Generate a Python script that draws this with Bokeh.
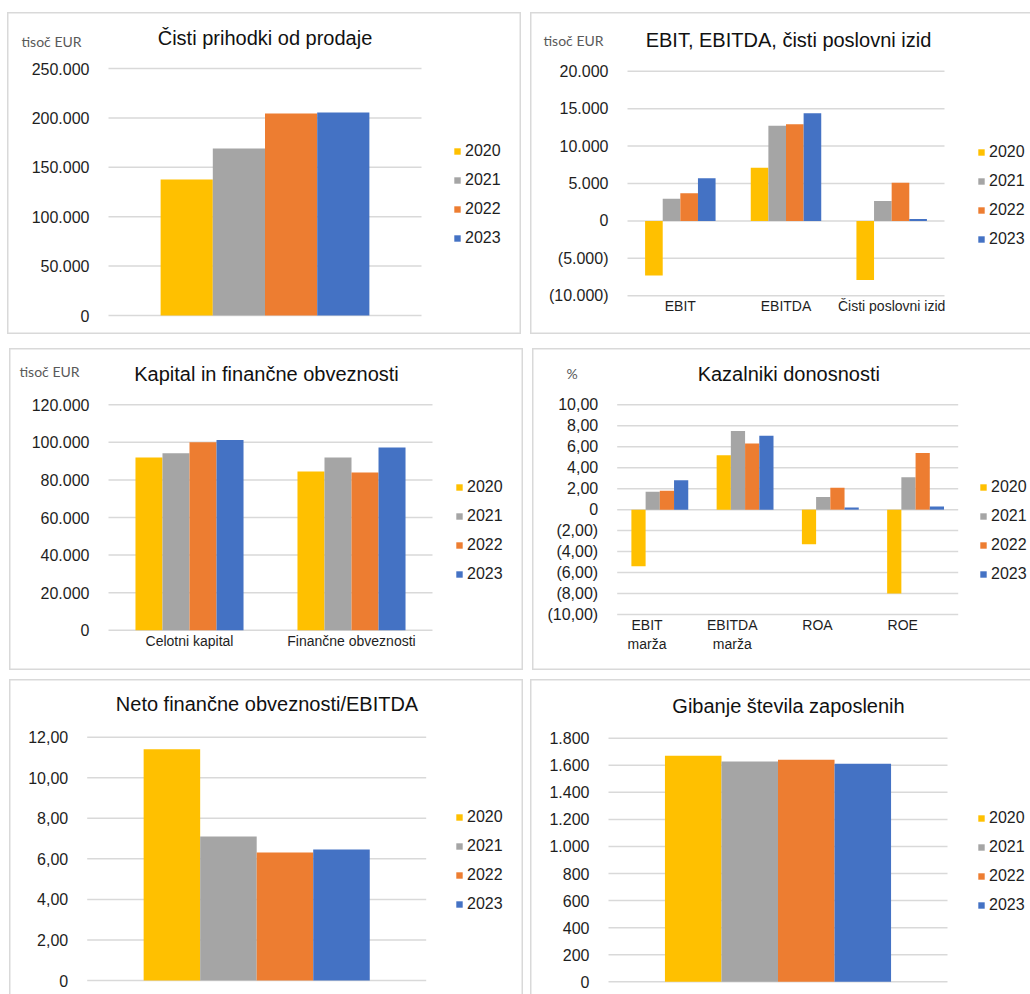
from bokeh.plotting import figure
from bokeh.models import (Range1d, FixedTicker, Legend, LegendItem, Label,
                          Spacer, ColumnDataSource)
from bokeh.layouts import column, row
from bokeh.transform import dodge
from bokeh.embed import file_html
from bokeh.resources import INLINE

years = ["2020", "2021", "2022", "2023"]
year_colors = ["#FFC000", "#A5A5A5", "#ED7D31", "#4472C4"]

# 1 - Čisti prihodki od prodaje (tisoč EUR)
sales_cats = ["Čisti prihodki od prodaje"]
sales_2020 = [137700]
sales_2021 = [169000]
sales_2022 = [204500]
sales_2023 = [205500]
sales_ticks = [0, 50000, 100000, 150000, 200000, 250000]
sales_tick_labels = ["0", "50.000", "100.000", "150.000", "200.000", "250.000"]

# 2 - EBIT, EBITDA, čisti poslovni izid (tisoč EUR)
ebit_cats = ["EBIT", "EBITDA", "Čisti poslovni izid"]
ebit_2020 = [-7300, 7100, -7900]
ebit_2021 = [2950, 12700, 2650]
ebit_2022 = [3700, 12900, 5100]
ebit_2023 = [5700, 14400, 270]
ebit_ticks = [-10000, -5000, 0, 5000, 10000, 15000, 20000]
ebit_tick_labels = ["(10.000)", "(5.000)", "0", "5.000", "10.000", "15.000", "20.000"]

# 3 - Kapital in finančne obveznosti (tisoč EUR)
cap_cats = ["Celotni kapital", "Finančne obveznosti"]
cap_2020 = [92000, 84500]
cap_2021 = [94200, 92000]
cap_2022 = [100100, 84000]
cap_2023 = [101200, 97300]
cap_ticks = [0, 20000, 40000, 60000, 80000, 100000, 120000]
cap_tick_labels = ["0", "20.000", "40.000", "60.000", "80.000", "100.000", "120.000"]

# 4 - Kazalniki donosnosti (%)
kaz_cats = ["EBIT\nmarža", "EBITDA\nmarža", "ROA", "ROE"]
kaz_2020 = [-5.4, 5.2, -3.3, -8.0]
kaz_2021 = [1.7, 7.5, 1.2, 3.1]
kaz_2022 = [1.8, 6.3, 2.1, 5.4]
kaz_2023 = [2.8, 7.05, 0.2, 0.3]
kaz_ticks = [-10, -8, -6, -4, -2, 0, 2, 4, 6, 8, 10]
kaz_tick_labels = ["(10,00)", "(8,00)", "(6,00)", "(4,00)", "(2,00)", "0",
                   "2,00", "4,00", "6,00", "8,00", "10,00"]

# 5 - Neto finančne obveznosti/EBITDA
neto_cats = ["Neto finančne obveznosti/EBITDA"]
neto_2020 = [11.4]
neto_2021 = [7.1]
neto_2022 = [6.31]
neto_2023 = [6.46]
neto_ticks = [0, 2, 4, 6, 8, 10, 12]
neto_tick_labels = ["0", "2,00", "4,00", "6,00", "8,00", "10,00", "12,00"]

# 6 - Gibanje števila zaposlenih
zap_cats = ["Gibanje števila zaposlenih"]
zap_2020 = [1670]
zap_2021 = [1627]
zap_2022 = [1640]
zap_2023 = [1611]
zap_ticks = [0, 200, 400, 600, 800, 1000, 1200, 1400, 1600, 1800]
zap_tick_labels = ["0", "200", "400", "600", "800", "1.000", "1.200", "1.400", "1.600", "1.800"]

FONT = "Liberation Sans"
GRID = "#D9D9D9"
TXT = "#1E1E1E"
BORDER = "#D9D9D9"


def panel(title, cats, series, ticks, tick_labels, W, H, cat_px, tick_px,
          title_pos, legend_pos, unit=None, unit_pos=None, show_x=True,
          sides="tlrb", x_standoff=2, label_shift=0.0):
    """cat_px: pixel x of category area (left, right); tick_px: pixel y of
    top and bottom tick (from figure top)."""
    L, R = cat_px
    Pt, Pb = tick_px
    ncat = len(cats)
    kx = ncat / (R - L)
    bottom_tick, top_tick = ticks[0], ticks[-1]
    ky = (top_tick - bottom_tick) / (Pb - Pt)
    p = figure(width=W, height=H,
               x_range=Range1d(-L * kx, ncat + (W - R) * kx),
               y_range=Range1d(bottom_tick - (H - Pb) * ky, top_tick + Pt * ky),
               output_backend="svg", toolbar_location=None, tools="",
               min_border=0, title_location=None)
    shadows = []
    if "t" in sides:
        shadows.append("inset 0 1.5px 0 " + BORDER)
    if "b" in sides:
        shadows.append("inset 0 -1.5px 0 " + BORDER)
    if "l" in sides:
        shadows.append("inset 1.5px 0 0 " + BORDER)
    if "r" in sides:
        shadows.append("inset -1.5px 0 0 " + BORDER)
    p.styles = {"box-shadow": ", ".join(shadows)}
    p.border_fill_color = None
    p.background_fill_color = None
    p.outline_line_color = None
    p.xgrid.visible = False
    p.ygrid.visible = False

    # horizontal gridlines over the category area, at the tick values
    p.segment(x0=0, x1=ncat, y0=ticks, y1=ticks, line_color=GRID,
              line_width=1.5)

    centers = [i + 0.5 for i in range(ncat)]
    group = 0.667
    bw = group / len(series)
    items = []
    for i, (yr, vals, col) in enumerate(zip(years, series, year_colors)):
        src = ColumnDataSource(dict(xc=centers, val=vals))
        off = (i - (len(series) - 1) / 2) * bw
        r = p.vbar(x=dodge("xc", off), top="val", bottom=0, width=bw,
                   source=src, fill_color=col, line_color=None)
        items.append(LegendItem(label=yr, renderers=[r]))

    # y axis placed at the start of the category area
    p.yaxis.fixed_location = 0
    p.yaxis.ticker = FixedTicker(ticks=ticks, minor_ticks=[])
    p.yaxis.major_label_overrides = dict(zip(ticks, tick_labels))
    p.yaxis.axis_line_color = None
    p.yaxis.major_tick_line_color = None
    p.yaxis.minor_tick_line_color = None
    p.yaxis.major_tick_out = 0
    p.yaxis.major_tick_in = 0
    p.yaxis.major_label_standoff = 19
    p.yaxis.major_label_text_font = FONT
    p.yaxis.major_label_text_font_size = "16px"
    p.yaxis.major_label_text_color = TXT

    # category axis on the lowest gridline
    label_x = [c + label_shift for c in centers]
    p.xaxis.fixed_location = bottom_tick
    p.xaxis.ticker = FixedTicker(ticks=label_x, minor_ticks=[])
    p.xaxis.major_label_overrides = dict(zip(label_x, cats))
    p.xaxis.axis_line_color = None
    p.xaxis.major_tick_line_color = None
    p.xaxis.minor_tick_line_color = None
    p.xaxis.major_tick_out = 0
    p.xaxis.major_tick_in = 0
    p.xaxis.major_label_standoff = x_standoff
    p.xaxis.major_label_text_font = FONT
    p.xaxis.major_label_text_font_size = "14px"
    p.xaxis.major_label_text_color = TXT
    p.xaxis.visible = show_x

    p.add_layout(Label(x=title_pos[0], y=H - title_pos[1], x_units="screen",
                       y_units="screen", text=title, text_font=FONT,
                       text_font_size="20px", text_color="#111111",
                       text_align="center", text_baseline="middle"))

    if unit is not None:
        p.add_layout(Label(x=unit_pos[0], y=H - unit_pos[1], x_units="screen",
                           y_units="screen", text=unit, text_font="Lato",
                           text_font_size="14px", text_color="#595959",
                           text_align="left", text_baseline="middle"))

    legend = Legend(items=items, location=(legend_pos[0], H - legend_pos[1]),
                    orientation="vertical", glyph_width=8, glyph_height=8,
                    label_standoff=4, label_height=20, spacing=9, padding=0,
                    margin=0, border_line_color=None, background_fill_alpha=0,
                    label_text_font=FONT, label_text_font_size="16px",
                    label_text_color=TXT)
    p.add_layout(legend)
    return p


# pixel geometry relative to each figure's top-left corner
f1 = panel("Čisti prihodki od prodaje", sales_cats,
           [sales_2020, sales_2021, sales_2022, sales_2023],
           sales_ticks, sales_tick_labels, 514, 322, (101, 414), (56, 303),
           (257.5, 25), (446, 235.5), unit="tisoč EUR", unit_pos=(14, 29),
           show_x=False)

f2 = panel("EBIT, EBITDA, čisti poslovni izid", ebit_cats,
           [ebit_2020, ebit_2021, ebit_2022, ebit_2023],
           ebit_ticks, ebit_tick_labels, 500, 322, (97, 414), (58.7, 283.3),
           (258, 27), (447, 236.5), unit="tisoč EUR", unit_pos=(13, 28),
           sides="tlb")

f3 = panel("Kapital in finančne obveznosti", cap_cats,
           [cap_2020, cap_2021, cap_2022, cap_2023],
           cap_ticks, cap_tick_labels, 514, 322, (99, 423), (56.3, 281.7),
           (257, 25.3), (446, 235.8), unit="tisoč EUR", unit_pos=(10, 23),
           x_standoff=3)

f4 = panel("Kazalniki donosnosti", kaz_cats,
           [kaz_2020, kaz_2021, kaz_2022, kaz_2023],
           kaz_ticks, kaz_tick_labels, 498, 322, (84.7, 425.7), (56.3, 266),
           (256.3, 25.3), (447, 235.8), unit="%", unit_pos=(34, 25),
           sides="tlb", label_shift=-0.15)

f5 = panel("Neto finančne obveznosti/EBITDA", neto_cats,
           [neto_2020, neto_2021, neto_2022, neto_2023],
           neto_ticks, neto_tick_labels, 514, 315, (77.7, 416.7), (57.7, 301),
           (257.5, 24.3), (446, 234.8), show_x=False, sides="tlr")

f6 = panel("Gibanje števila zaposlenih", zap_cats,
           [zap_2020, zap_2021, zap_2022, zap_2023],
           zap_ticks, zap_tick_labels, 500, 315, (78, 417), (58.7, 302.3),
           (258, 26), (447, 235.8), show_x=False, sides="tl")

layout = column(
    Spacer(width=1030, height=12),
    row(Spacer(width=7, height=322), f1, Spacer(width=9, height=322), f2),
    Spacer(width=1030, height=14),
    row(Spacer(width=9, height=322), f3, Spacer(width=9, height=322), f4),
    Spacer(width=1030, height=9),
    row(Spacer(width=9, height=315), f5, Spacer(width=7, height=315), f6),
)

open("out.html", "w").write(file_html(layout, INLINE, title="Finančni kazalniki"))
